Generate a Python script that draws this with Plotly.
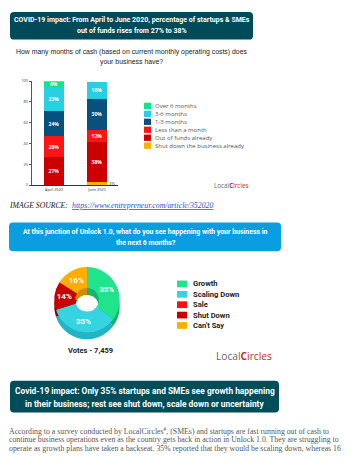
import plotly.graph_objects as go

W, H = 354, 461

# ---------------- data ----------------
categories = ["April 2020", "June 2020"]
bar_series = ["Shut down the business already", "Out of funds already", "Less than a month",
              "1-3 months", "3-6 months", "Over 6 months"]
shut_down = [0, 3]
out_of_funds = [27, 38]
less_than_month = [20, 12]
one_to_three_months = [24, 30]
three_to_six_months = [23, 16]
over_six_months = [6, 0]
bar_colors = ["#ffb000", "#cc0000", "#ff1414", "#08507e", "#27cfe0", "#12e38c"]
y_ticks = [0, 20, 40, 60, 80, 100]

pie_labels = ["Growth", "Scaling Down", "Sale", "Shut Down", "Can't Say"]
pie_values = [35, 35, 0, 14, 16]
pie_colors = ["#20e48c", "#36d3e0", "#ff1010", "#c80000", "#ffad00"]
pie_side_colors = ["#14b46a", "#22b4c4", "#b80000", "#8c0000", "#d08c00"]
votes = "7,459"

bar_values = [shut_down, out_of_funds, less_than_month, one_to_three_months,
              three_to_six_months, over_six_months]


def px(x):
    return x / W


def py(y):
    return 1 - y / H


fig = go.Figure()

# ---------------- stacked bars ----------------
for name, vals, color in zip(bar_series, bar_values, bar_colors):
    inside = name != bar_series[0]
    fig.add_bar(
        x=categories, y=vals, name=name, marker=dict(color=color, line=dict(width=0)),
        text=[f"{v}%" for v in vals],
        textposition=["inside" if (v and inside) else "none" for v in vals],
        insidetextanchor="middle", constraintext="none",
        textfont=dict(color="white", size=5, family="Open Sans", weight="bold"),
        width=0.47, showlegend=False,
    )

annotations = []
for cat, v in zip(categories, shut_down):
    if v:
        annotations.append(dict(x=cat, y=v / 2, xref="x", yref="y", text=f"{v}%",
                                xanchor="left", yanchor="middle", xshift=10.5, showarrow=False,
                                font=dict(size=4.2, color="#333", family="Open Sans")))

# ---------------- donut (with a darker copy below for depth) ----------------
cx, cy, r, depth = 87, 300, 33, 7
fig.add_pie(
    values=pie_values, labels=pie_labels, sort=False, direction="clockwise", hole=0.36,
    marker=dict(colors=pie_side_colors, line=dict(width=0)), textinfo="none",
    domain=dict(x=[px(cx - r), px(cx + r)], y=[py(cy + depth + r), py(cy + depth - r)]),
    showlegend=False, hoverinfo="skip",
)
fig.add_pie(
    values=pie_values, labels=pie_labels, sort=False, direction="clockwise", hole=0.36,
    marker=dict(colors=pie_colors, line=dict(width=0)),
    text=[f"{v}%" if v else "" for v in pie_values], textinfo="text",
    textposition=["inside" if v else "none" for v in pie_values],
    insidetextorientation="horizontal",
    textfont=dict(color="white", size=8, family="Roboto", weight="bold"),
    domain=dict(x=[px(cx - r), px(cx + r)], y=[py(cy + r), py(cy - r)]),
    showlegend=False,
)

# ---------------- helpers ----------------
shapes = []


def rrect(x0, y0, x1, y1, rad, color):
    rx, ry = rad / W, rad / H
    a, b, c, d = px(x0), py(y0), px(x1), py(y1)
    path = (f"M {a+rx},{b} L {c-rx},{b} Q {c},{b} {c},{b-ry} L {c},{d+ry} Q {c},{d} {c-rx},{d} "
            f"L {a+rx},{d} Q {a},{d} {a},{d+ry} L {a},{b-ry} Q {a},{b} {a+rx},{b} Z")
    shapes.append(dict(type="path", xref="paper", yref="paper", path=path,
                       fillcolor=color, line=dict(width=0), layer="below"))


def label(x, y, s, size, color="#222", family="Roboto", anchor="center"):
    annotations.append(dict(x=px(x), y=py(y), xref="paper", yref="paper", text=s,
                            xanchor=anchor, yanchor="middle", showarrow=False,
                            font=dict(size=size, color=color, family=family)))


def square(x0, y0, x1, y1, color):
    shapes.append(dict(type="rect", xref="paper", yref="paper", x0=px(x0), x1=px(x1),
                       y0=py(y1), y1=py(y0), fillcolor=color, line=dict(width=0)))


# ---------------- header box ----------------
rrect(10, 9, 253, 37, 4, "#004a5a")
label(131.5, 17.5, "<b>COVID-19 impact: From April to June 2020, percentage of startups &amp; SMEs</b>",
      7.0, "white")
label(131.5, 28, "<b>out of funds rises from 27% to 38%</b>", 7.0, "white")

label(131.5, 50, "How many months of cash (based on current monthly operating costs) does",
      6.9, "#222", "Liberation Sans")
label(131.5, 59.5, "your business have?", 6.9, "#222", "Liberation Sans")

# bar legend (manual, compact)
for i, (name, color) in enumerate(zip(bar_series[::-1], bar_colors[::-1])):
    yc = 104 + i * 8.05
    square(144, yc - 3.2, 151, yc + 3.2, color)
    label(153, yc, name, 6, "#555", "Open Sans", "left")

label(212, 184, "<span style='color:#666'>Local</span><span style='color:#d01f1f'><b>C</b>ircles</span>",
      6.3, "#666", "Open Sans", "left")

# ---------------- image source ----------------
label(7, 205, "<i>IMAGE SOURCE:</i>", 7.7, "#111", "Liberation Serif", "left")
label(70, 205, "<i><u>https://www.entrepreneur.com/article/352020</u></i>", 7.8, "#1a55d6",
      "Liberation Serif", "left")

# ---------------- second question box ----------------
rrect(9, 222, 281, 251, 4, "#0a9de0")
label(145.5, 232, "<b>At this junction of Unlock 1.0, what do you see happening with your business in</b>",
      6.9, "white")
label(145.5, 242.5, "<b>the next 6 months?</b>", 6.9, "white")

# pie legend (manual)
for i, (name, color) in enumerate(zip(pie_labels, pie_colors)):
    yc = 284 + i * 10.5
    square(177, yc - 3.4, 187, yc + 3.4, color)
    label(190.5, yc, f"<b>{name}</b>", 7.6, "#222", "Roboto", "left")

label(90.5, 351, f"<b>Votes - {votes}</b>", 7.5, "#222", "Roboto")
label(214, 357, "<span style='color:#666'>Local</span><span style='color:#d01f1f'><b>C</b>ircles</span>",
      10.2, "#666", "Open Sans", "left")

# ---------------- conclusion box ----------------
rrect(10, 382, 279, 414, 4, "#004d5a")
label(144.5, 392, "<b>Covid-19 impact: Only 35% startups and SMEs see growth happening</b>", 8.4, "white")
label(144.5, 405, "<b>in their business; rest see shut down, scale down or uncertainty</b>", 8.4, "white")

# ---------------- paragraph ----------------
para = [
    "According to a survey conducted by LocalCircles<sup>#</sup>, (SMEs) and startups are fast running out of cash to",
    "continue business operations even as the country gets back in action in Unlock 1.0. They are struggling to",
    "operate as growth plans have taken a backseat. 35% reported that they would be scaling down, whereas 16",
]
for i, line in enumerate(para):
    label(7, 432.7 + i * 9, line, 7.8, "#555", "Liberation Serif", "left")

fig.update_layout(
    width=W, height=H, margin=dict(l=0, r=0, t=0, b=0),
    paper_bgcolor="white", plot_bgcolor="white", barmode="stack",
    font=dict(family="Open Sans", color="#333"),
    xaxis=dict(domain=[px(32), px(118)], range=[-0.51, 1.49], type="category",
               showline=True, linecolor="#333", linewidth=0.8, ticks="", showgrid=False,
               tickfont=dict(size=3.8, color="#333"), ticklabelstandoff=1),
    yaxis=dict(domain=[py(184), py(79)], range=[0, 100], tickvals=y_ticks,
               showline=True, linecolor="#555", linewidth=0.6, ticks="outside", ticklen=2.5,
               tickwidth=0.6, tickcolor="#555", showgrid=False, zeroline=False,
               tickfont=dict(size=3.8, color="#333")),
    shapes=shapes, annotations=annotations, showlegend=False,
)

fig.write_html("out.html")
